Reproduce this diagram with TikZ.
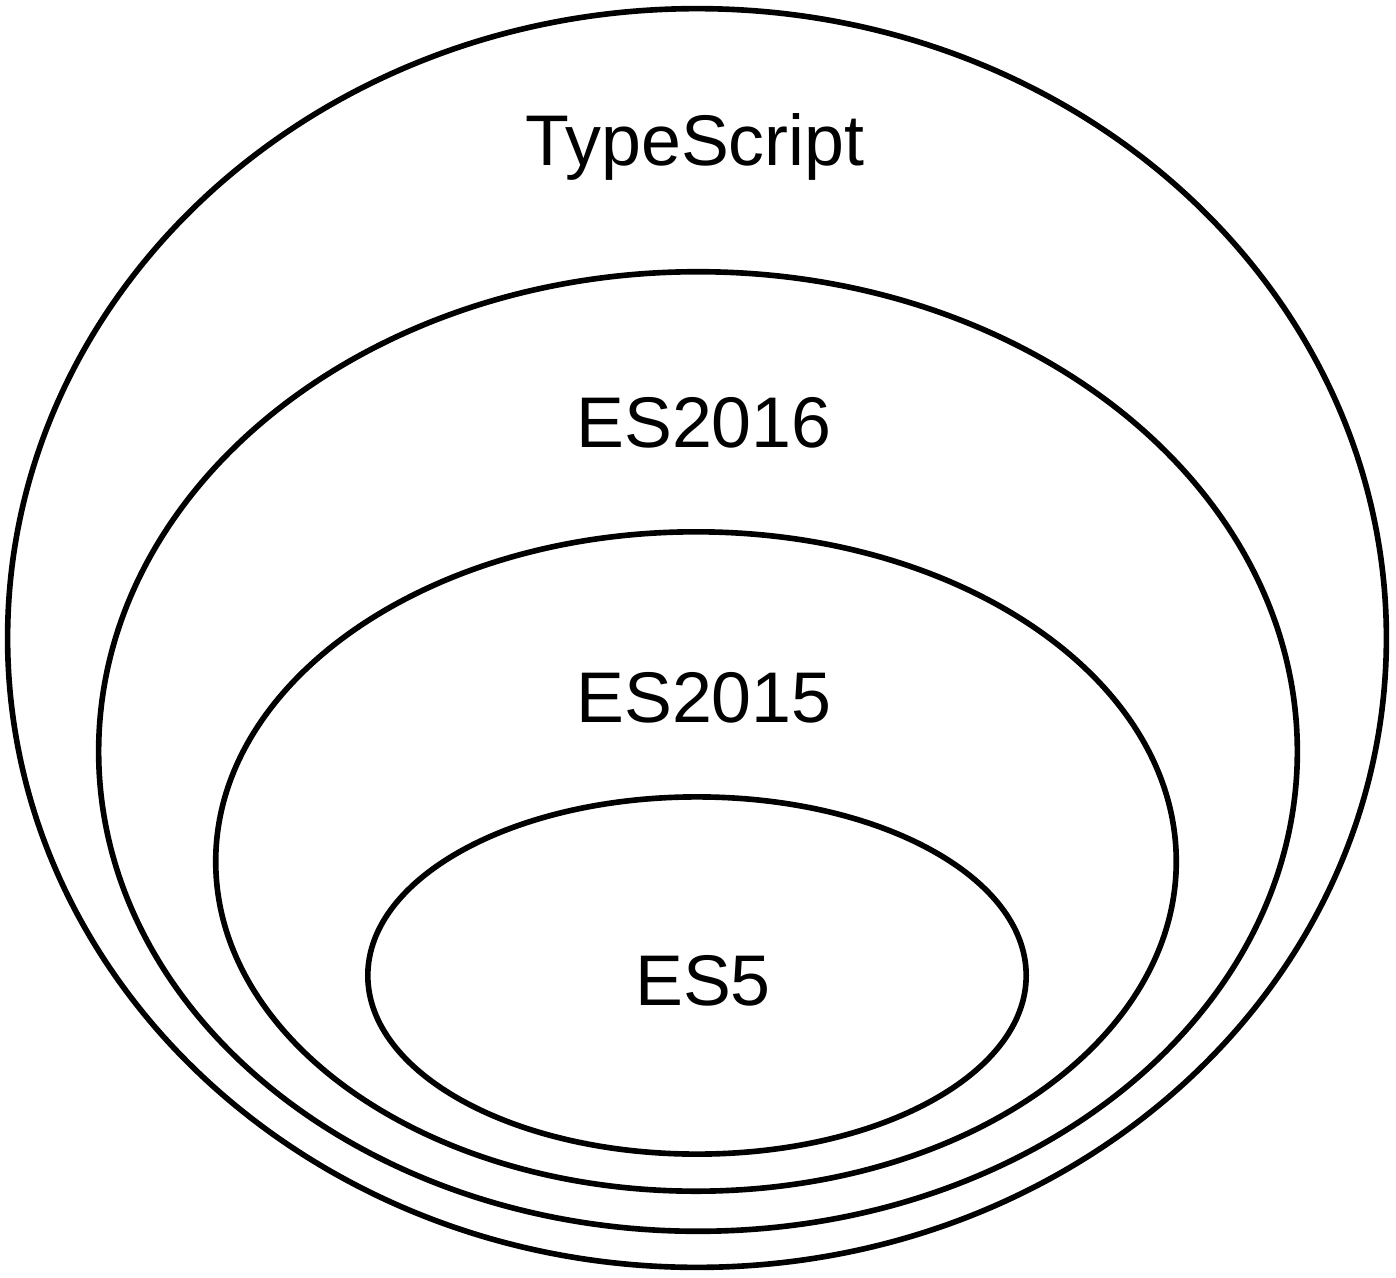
\documentclass[tikz,border=0pt]{standalone}
\usepackage{fontspec}
\setmainfont{Liberation Sans}
\usetikzlibrary{shapes.geometric}
\begin{document}
\begin{tikzpicture}[x=0.01cm,y=-0.01cm,
  ring/.style={ellipse,draw=black,line width=1.6pt,inner sep=0pt},
  lab/.style={anchor=base,inner sep=0pt,font=\fontsize{20.4pt}{24pt}\selectfont}]
\useasboundingbox (0,0) rectangle (1396,1278);
\node[ring,minimum width=13.78cm,minimum height=12.58cm] (ts) at (697,638) {};
\node[ring,minimum width=11.98cm,minimum height=9.59cm] (e16) at (698,751.5) {};
\node[ring,minimum width=9.60cm,minimum height=6.59cm] (e15) at (696,861.5) {};
\node[ring,minimum width=6.58cm,minimum height=3.57cm] (e5) at (697,975.5) {};
\node[lab] (tsl) at (695,165) {TypeScript};
\node[lab] (e16l) at (704,447) {ES2016};
\node[lab] (e15l) at (704,722) {ES2015};
\node[lab] (e5l) at (703,1005) {ES5};
\end{tikzpicture}
\end{document}
